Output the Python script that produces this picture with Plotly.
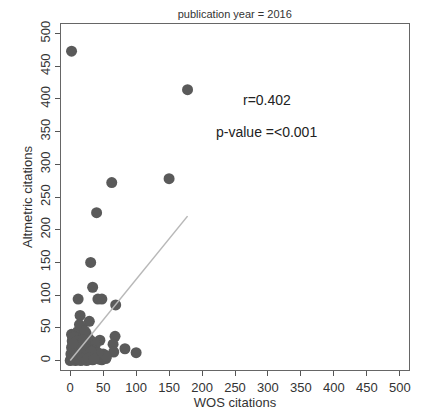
import plotly.graph_objects as go

# WOS citations (x) and Altmetric citations (y) for publication year 2016
wos = [2, 178, 63, 150, 40, 31, 34, 12, 42, 48, 69, 15, 29, 18, 2, 45, 68, 65, 66, 83, 100, 43, 53,
       0, 1, 2, 3, 4, 5, 6, 7, 8, 9, 10, 11, 12, 13, 14, 15, 16, 17, 18, 19, 20, 21, 22, 23, 24, 25,
       26, 27, 28, 29, 30, 31, 32, 33, 34, 35, 36, 38, 40, 42, 44, 46, 48, 50, 52, 54,
       2, 3, 4, 5, 6, 7, 8, 9, 10, 11, 12, 13, 15, 17, 19, 20, 22, 24, 26, 28, 30, 32, 34, 36, 38, 40,
       1, 3, 5, 8, 12, 16, 20, 25, 30, 35, 45, 50, 55, 14, 22,
       6, 10, 14, 18, 22, 26, 30, 34, 38, 42, 10, 16, 24, 32, 4, 20, 28, 36]
alt = [473, 414, 272, 278, 226, 150, 112, 94, 94, 94, 85, 69, 60, 50, 40, 31, 37, 25, 13, 18, 12, 6, 8,
       0, 2, 5, 1, 8, 3, 12, 6, 0, 15, 4, 20, 9, 2, 25, 11, 30, 7, 18, 1, 22, 14, 5, 35, 10, 28,
       3, 17, 8, 24, 2, 13, 6, 20, 1, 9, 4, 15, 3, 7, 2, 5, 1, 4, 8, 3,
       20, 30, 15, 25, 35, 40, 28, 38, 22, 44, 33, 40, 18, 42, 36, 40, 30, 42, 20, 34, 26, 30, 22, 12, 24, 8,
       10, 38, 36, 10, 2, 0, 6, 0, 10, 16, 6, 10, 6, 55, 45,
       18, 10, 16, 8, 12, 10, 16, 12, 6, 12, 30, 24, 18, 14, 26, 32, 4, 2]

# Linear fit shown on the chart
fit_intercept = 0.0
fit_slope = 1.24
r_text = "r=0.402"
p_text = "p-value =<0.001"

tick_vals = list(range(0, 501, 50))

x_line = [min(wos), max(wos)]
y_line = [fit_intercept + fit_slope * v for v in x_line]

fig = go.Figure()
fig.add_trace(go.Scatter(x=wos, y=alt, mode="markers",
                         marker=dict(color="#5a5a5a", size=11, line=dict(width=0))))
fig.add_trace(go.Scatter(x=x_line, y=y_line, mode="lines",
                         line=dict(color="#b8b8b8", width=1.5), hoverinfo="skip"))

fig.add_annotation(x=298, y=398, text=r_text, showarrow=False, xref="x", yref="y",
                   font=dict(size=14, color="#222"))
fig.add_annotation(x=298, y=349, text=p_text, showarrow=False, xref="x", yref="y",
                   font=dict(size=14, color="#222"))

font_family = "Liberation Sans, Arial, sans-serif"
fig.update_layout(
    width=423, height=413,
    margin=dict(l=61, r=14, t=24, b=43),
    paper_bgcolor="white", plot_bgcolor="white",
    showlegend=False,
    font=dict(family=font_family, color="#333", size=12),
    title=dict(text="publication year = 2016", x=0.555, xanchor="center", y=0.965, yanchor="middle",
               font=dict(size=11, color="#333")),
    xaxis=dict(range=[-14, 514], tickvals=tick_vals, ticks="outside", ticklen=5, tickcolor="#555",
               showline=True, linecolor="#666", linewidth=1, mirror=True, showgrid=False, zeroline=False,
               automargin=False,
               tickfont=dict(size=13, color="#333"),
               title=dict(text="WOS citations", font=dict(size=13, color="#333"), standoff=2)),
    yaxis=dict(range=[-14.5, 514.5], tickvals=tick_vals, ticks="outside", ticklen=5, tickcolor="#555",
               tickangle=-90, automargin=False,
               showline=True, linecolor="#666", linewidth=1, mirror=True, showgrid=False, zeroline=False,
               tickfont=dict(size=13, color="#333"),
               title=dict(text="Altmetric citations", font=dict(size=13, color="#333"), standoff=2)),
)

fig.write_html("out.html")
